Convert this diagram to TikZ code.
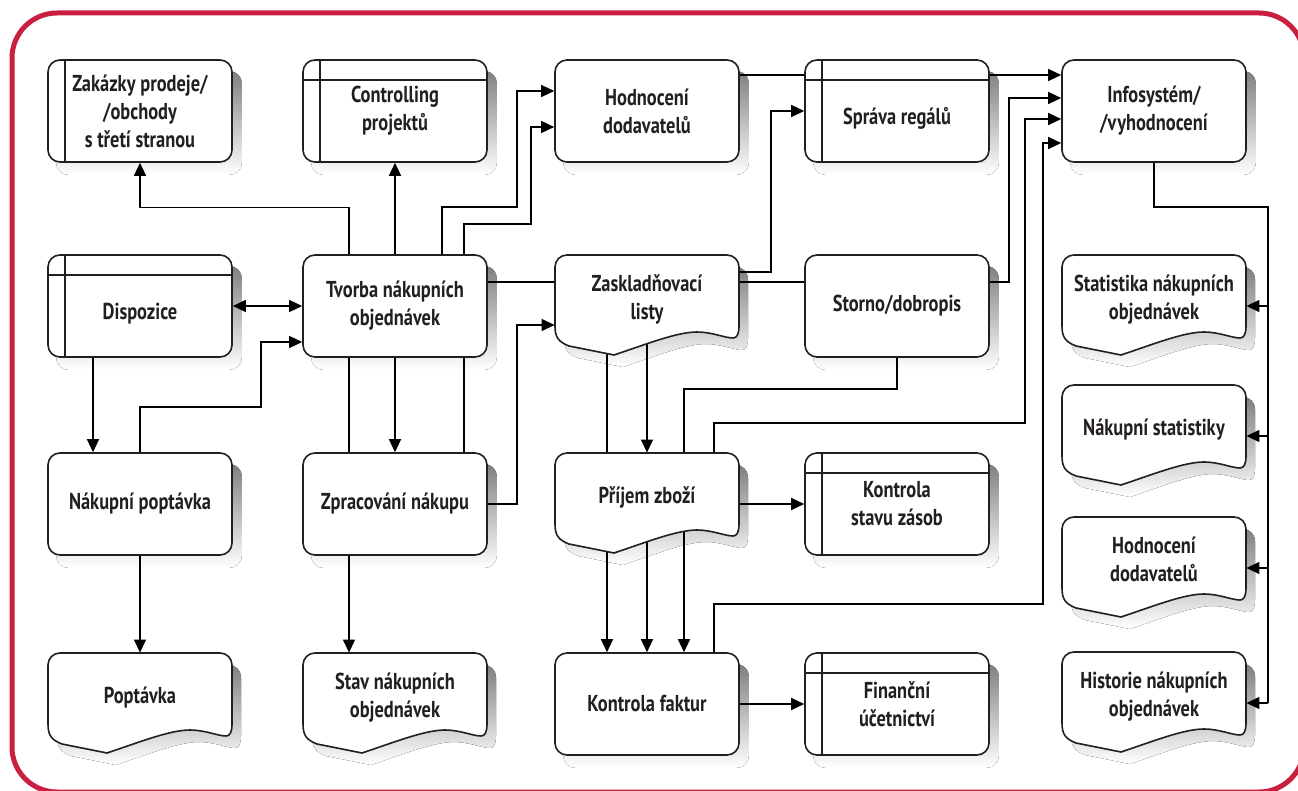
\documentclass[tikz,border=0pt]{standalone}
\usepackage{fontspec}
\setmainfont{PT Sans}[FakeStretch=0.8]
\usepackage{tikz}
\usetikzlibrary{arrows.meta}
\usetikzlibrary{backgrounds}
\definecolor{ink}{RGB}{35,31,32}
\definecolor{frame}{RGB}{200,32,62}
\definecolor{shade}{RGB}{220,221,223}
\pgfdeclarelayer{shadow}
\pgfdeclarelayer{wire}
\pgfsetlayers{shadow,wire,main}
\newcommand\boxfont{\bfseries\fontsize{11.5}{14}\selectfont}
\tikzset{procbox/.style = {draw, fill=white, rounded corners=6pt, line width=0.8pt,
                           minimum width=92pt, minimum height=51pt, align=center, font=\boxfont}}
\tikzset{storebox/.style = {procbox, path picture={
           \draw[line width=0.8pt] ([xshift=8.5pt]path picture bounding box.north west)
                                -- ([xshift=8.5pt]path picture bounding box.south west);}}}
\tikzset{tablebox/.style = {procbox, execute at begin node={\rule{0pt}{16pt}}, path picture={
           \draw[line width=0.8pt] ([xshift=8.5pt]path picture bounding box.north west)
                                -- ([xshift=8.5pt]path picture bounding box.south west)
                                   ([yshift=-10pt]path picture bounding box.north west)
                                -- ([yshift=-10pt]path picture bounding box.north east);}}}
\tikzset{docbox/.style = {minimum width=92pt, minimum height=51pt, align=center, font=\boxfont,
                          execute at end node={\rule[-9pt]{0pt}{9pt}}}}
\tikzset{wire/.style = {line width=0.65pt}}
\tikzset{arr/.style = {wire, -{Triangle[length=6.5pt, width=6pt]}}}
\tikzset{arrs/.style = {wire, {Triangle[length=6.5pt, width=6pt]}-{Triangle[length=6.5pt, width=6pt]}}}
% document outline, centre at the origin
\newcommand\docpath{(-92,20) .. controls (-92,32) and (-88,36) .. (-78,40) -- (-33,49)
  .. controls (0,38) and (30,26) .. (50,26) .. controls (65,26) and (78,32) .. (86,32)
  .. controls (90,32) and (92,28) .. (92,20)
  -- (92,-39) arc[start angle=0, end angle=-90, radius=12] -- (-80,-51)
  arc[start angle=-90, end angle=-180, radius=12] -- cycle}
\newcommand\docnode[3]{%
  \begin{pgfonlayer}{shadow}
    \fill[shade, shift={#2}, xshift=4.5pt, yshift=-6pt] \docpath;
  \end{pgfonlayer}
  \draw[fill=white, line width=0.8pt, shift={#2}] \docpath;
  \node[docbox] (#1) at #2 {#3};}

\begin{document}
\begin{tikzpicture}[x=0.5pt, y=-0.5pt, color=ink]
  \useasboundingbox (0,0) rectangle (1298,791);
  \draw[frame, line width=2.5pt, rounded corners=22.5pt] (12,13) rectangle (1304,792);

  % row 1
  \node[storebox] (zakazky) at (140,111) {Zakázky prodeje/\\/obchody\\s třetí stranou};
  \node[tablebox] (controlling) at (395,111) {Controlling\\projektů};
  \node[procbox] (hodnoceni) at (647,111) {Hodnocení\\dodavatelů};
  \node[tablebox] (sprava) at (897,111) {Správa regálů};
  \node[procbox] (infosys) at (1154,111) {Infosystém/\\/vyhodnocení};

  % row 2
  \node[tablebox] (dispozice) at (140,306) {Dispozice};
  \node[procbox] (tvorba) at (395,306) {Tvorba nákupních\\objednávek};
  \docnode{zasklad}{(647,306)}{Zaskladňovací\\listy}
  \node[procbox] (storno) at (897,306) {Storno/dobropis};

  % row 3
  \node[procbox] (poptavka) at (140,504) {Nákupní poptávka};
  \node[procbox] (zpracovani) at (395,504) {Zpracování nákupu};
  \docnode{prijem}{(647,504)}{Příjem zboží}
  \node[tablebox] (stavzasob) at (897,504) {Kontrola\\stavu zásob};

  % row 4
  \docnode{poptdoc}{(140,704)}{Poptávka}
  \docnode{stavobj}{(395,704)}{Stav nákupních\\objednávek}
  \node[procbox] (faktury) at (647,704) {Kontrola faktur};
  \node[tablebox] (ucetnictvi) at (897,704) {Finanční\\účetnictví};

  % reports
  \docnode{stat1}{(1154,306)}{Statistika nákupních\\objednávek}
  \docnode{stat2}{(1154,436)}{Nákupní statistiky}
  \docnode{stat3}{(1154,568)}{Hodnocení\\dodavatelů}
  \docnode{stat4}{(1154,703)}{Historie nákupních\\objednávek}

  \begin{pgfonlayer}{shadow}
    \foreach \n in {zakazky,controlling,hodnoceni,sprava,infosys,dispozice,tvorba,storno,
                    poptavka,zpracovani,stavzasob,faktury,ucetnictvi}
      \fill[shade, rounded corners=6pt] ([shift={(4.5pt,-6pt)}]\n.south west)
                                        rectangle ([shift={(4.5pt,-6pt)}]\n.north east);
  \end{pgfonlayer}

  \begin{pgfonlayer}{wire}
    \draw[arr] ([xshift=-23pt]zpracovani.north) |- ([yshift=-22.5pt]zakazky.south) -- (zakazky.south);
    \draw[arr] (tvorba.north) -- (controlling.south);
    \draw[arr] ([xshift=23.5pt]tvorba.north) |- (517,207) |- ([yshift=10pt]hodnoceni.west);
    \draw[arr] ([xshift=34.5pt]zpracovani.north) |- (531,224) |- ([yshift=-8pt]hodnoceni.west);
    \draw[arr] ([yshift=18pt]hodnoceni.east) -- ([yshift=18pt]infosys.west);
    \draw[arrs] (dispozice.east) -- (tvorba.west);
    \draw[arr] (poptavka.north) |- (261,407) |- ([yshift=-18pt]tvorba.west);
    \draw[arr] ([xshift=-23.5pt]dispozice.south) -- ([xshift=-23.5pt]poptavka.north);
    \draw[arr] (poptavka.south) -- (poptdoc.north);
    \draw[arr] (tvorba.south) -- (zpracovani.north);
    \draw[arr] ([xshift=-23pt]zpracovani.south) -- ([xshift=-23pt]stavobj.north);
    \draw[arr] ([yshift=17pt]zasklad.east) -| (771,200) |- (sprava.west);
    \draw[arr] ([yshift=12pt]tvorba.east) -| (1009,200) |- ([yshift=6.5pt]infosys.west);
    \draw[arr] (zpracovani.east) -| (517,400) |- ([yshift=-9.5pt]zasklad.west);
    \draw[arr] (zasklad.center) -- (prijem.north);
    \draw[arr] ([xshift=-20pt]zasklad.center) -- ([xshift=-20pt]faktury.north);
    \draw[arr] (prijem.center) -- (faktury.north);
    \draw[arr] (storno.south) |- (684,389) -- ([xshift=18.5pt]faktury.north);
    \draw[arr] ([xshift=33.5pt]prijem.north) |- (1025,423) |- ([yshift=-4pt]infosys.west);
    \draw[arr] ([xshift=33.5pt]faktury.north) |- (1043,604) |- ([yshift=-16pt]infosys.west);
    \draw[arr] (prijem.east) -- (stavzasob.west);
    \draw[arr] (faktury.east) -- (ucetnictvi.west);
    \coordinate (bus) at (1268,207);
    \draw[wire] (infosys.south) |- (bus) -- (bus |- stat4.east);
    \foreach \s in {stat1,stat2,stat3,stat4}
      \draw[arr] (bus |- \s.east) -- (\s.east);
  \end{pgfonlayer}
\end{tikzpicture}
\end{document}
